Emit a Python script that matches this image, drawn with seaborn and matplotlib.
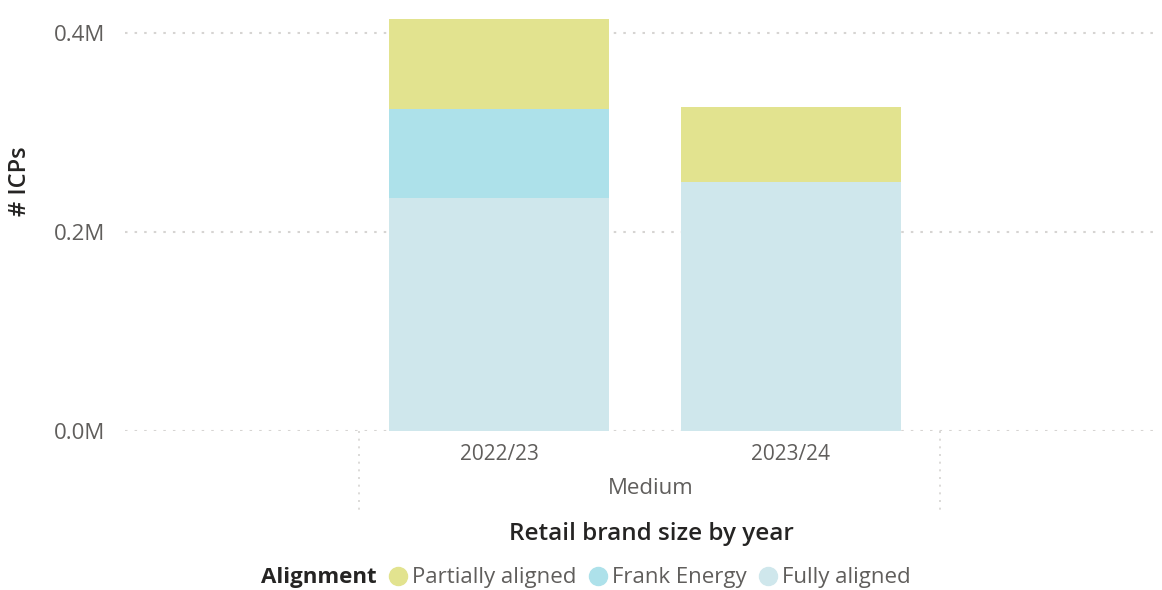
import matplotlib
matplotlib.use("Agg")
import matplotlib.pyplot as plt
from matplotlib.lines import Line2D
from matplotlib.ticker import FuncFormatter
import numpy as np
import pandas as pd
import seaborn as sns

# ---- data -------------------------------------------------------------
years = ["2022/23", "2023/24"]
group_label = "Medium"
fully_aligned = [234000, 250000]
frank_energy = [89000, 0]
partially_aligned = [91000, 75000]

series_names = ["Partially aligned", "Frank Energy", "Fully aligned"]
series_colors = {"Partially aligned": "#E2E38F",
                 "Frank Energy": "#ADE1EA",
                 "Fully aligned": "#CFE7EC"}

# ---- styling ----------------------------------------------------------
sns.set_theme(style="white")
plt.rcParams["font.family"] = ["Open Sans", "DejaVu Sans"]
TICK_COLOR = "#605E5C"
TITLE_COLOR = "#252423"
GRID_COLOR = "#D6D4D2"

W, H = 1162, 590
fig = plt.figure(figsize=(W / 100, H / 100), dpi=100)


def fx(x):
    return x / W


def fy(y):
    return 1 - y / H


ax = fig.add_axes([fx(125), fy(431), (1160 - 125) / W, (431 - 5) / H])

# stacked bars: draw cumulative totals from the top segment downwards
df = pd.DataFrame({"year": years,
                   "Fully aligned": fully_aligned,
                   "Frank Energy": frank_energy,
                   "Partially aligned": partially_aligned})
stack_order = ["Fully aligned", "Frank Energy", "Partially aligned"]
cum = df[stack_order].cumsum(axis=1)

for name in reversed(stack_order):
    sns.barplot(x=df["year"], y=cum[name], color=series_colors[name],
                saturation=1, width=0.753, ax=ax, zorder=3, linewidth=0,
                edgecolor="none")

ax.set_xlim(-1.281, 2.264)
ax.set_ylim(0, 427700)
ax.set_yticks([0, 200000, 400000])
ax.yaxis.set_major_formatter(FuncFormatter(lambda v, _: f"{v / 1e6:.1f}M"))

for s in ax.spines.values():
    s.set_visible(False)
ax.grid(axis="y", color=GRID_COLOR, linestyle=(0, (1.2, 3.4)), linewidth=1.5, zorder=0)
ax.grid(axis="x", visible=False)
ax.set_axisbelow(True)

ax.tick_params(axis="y", length=0, pad=14, labelsize=16, labelcolor=TICK_COLOR)
ax.tick_params(axis="x", length=0, pad=9, labelsize=15, labelcolor=TICK_COLOR)
ax.set_xlabel("")
ax.set_ylabel("")

# hierarchical category divider lines below the axis
trans = ax.get_xaxis_transform()
y_low = -(510 - 431) / (431 - 5)
for xv in (-0.478, 1.509):
    ax.plot([xv, xv], [0, y_low], transform=trans, clip_on=False,
            color=GRID_COLOR, linestyle=(0, (1.2, 3.4)), linewidth=1.2)

fig.text(fx(651), fy(488), group_label, ha="center", va="center",
         fontsize=16, color=TICK_COLOR)
fig.text(fx(651), fy(534), "Retail brand size by year", ha="center", va="center",
         fontsize=17.5, color=TITLE_COLOR, fontweight="semibold")
fig.text(fx(20), fy(181), "# ICPs", ha="center", va="center", rotation=90,
         fontsize=17, color=TITLE_COLOR, fontweight="semibold")

# legend
fig.text(fx(377), fy(578), "Alignment", ha="right", va="center",
         fontsize=16, color=TITLE_COLOR, fontweight="bold")
handles = [Line2D([], [], marker="o", linestyle="", markersize=13,
                  markerfacecolor=series_colors[n], markeredgecolor=series_colors[n])
           for n in series_names]
leg = fig.legend(handles, series_names, loc="center left",
                 bbox_to_anchor=(fx(385), fy(578)), ncol=3, frameon=False,
                 fontsize=16, handletextpad=0.0, columnspacing=0.4,
                 borderpad=0, borderaxespad=0, handlelength=1.2)
for t in leg.get_texts():
    t.set_color(TICK_COLOR)

fig.savefig("out.png", dpi=100, facecolor="white")
